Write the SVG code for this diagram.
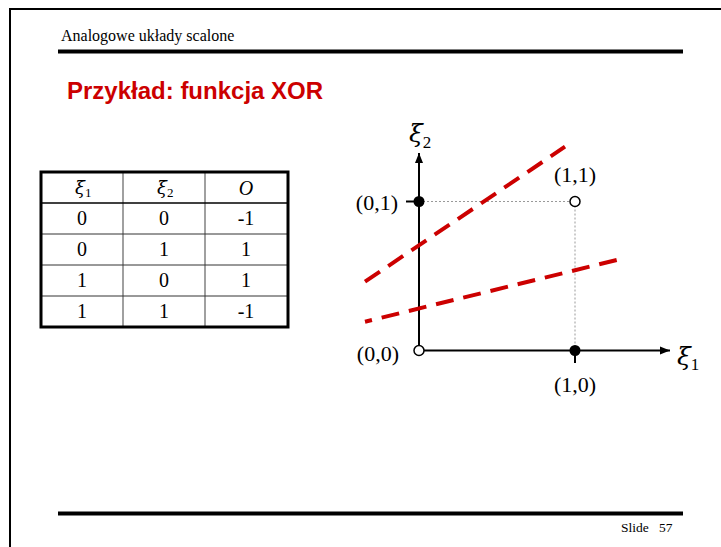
<svg xmlns="http://www.w3.org/2000/svg" width="721" height="547" viewBox="0 0 721 547">
<style>
.serif{font-family:"Liberation Serif","Times New Roman",serif;fill:#000}
.cell{font-size:20px;text-anchor:middle}
.lbl{font-size:22px}
.xi{font-family:"DejaVu Serif","Liberation Serif",serif;font-style:italic}
.red{stroke:#CC0000;stroke-width:4;fill:none;stroke-dasharray:18 10}
.dot{stroke:#999;stroke-width:1;stroke-dasharray:2 2;fill:none}
.axis{stroke:#000;stroke-width:2;fill:none}
</style>
<defs>
<marker id="arr" viewBox="0 0 10 10" refX="10" refY="5" markerWidth="10" markerHeight="10" markerUnits="userSpaceOnUse" orient="auto">
<path d="M0,1 L10,5 L0,9 z" fill="#000"/>
</marker>
</defs>
<rect width="721" height="547" fill="#fff"/>
<g id="frame">
<path d="M10,547 V9 H721" stroke="#000" stroke-width="2" fill="none"/>
<line x1="58" y1="51.5" x2="683" y2="51.5" stroke="#000" stroke-width="4"/>
<line x1="58" y1="513.5" x2="683" y2="513.5" stroke="#000" stroke-width="4"/>
<text class="serif" x="61" y="41" font-size="16">Analogowe układy scalone</text>
<text class="serif" x="621" y="532" font-size="13.5" xml:space="preserve">Slide   57</text>
<text x="67" y="99" font-family="Liberation Sans, Arial, sans-serif" font-weight="bold" font-size="24" fill="#CC0000">Przykład: funkcja XOR</text>
</g>
<g id="table">
<line x1="123" y1="172" x2="123" y2="327" stroke="#808080" stroke-width="1.5"/>
<line x1="205" y1="172" x2="205" y2="327" stroke="#808080" stroke-width="1.5"/>
<line x1="41" y1="203" x2="288" y2="203" stroke="#000" stroke-width="1.5"/>
<line x1="41" y1="234" x2="288" y2="234" stroke="#333" stroke-width="1"/>
<line x1="41" y1="265" x2="288" y2="265" stroke="#333" stroke-width="1"/>
<line x1="41" y1="296" x2="288" y2="296" stroke="#333" stroke-width="1"/>
<rect x="41" y="172" width="247" height="155" fill="none" stroke="#000" stroke-width="3"/>
<text class="serif" x="75" y="194" font-size="18"><tspan class="xi">ξ</tspan><tspan font-size="13" dy="3">1</tspan></text>
<text class="serif" x="157" y="194" font-size="18"><tspan class="xi">ξ</tspan><tspan font-size="13" dy="3">2</tspan></text>
<text class="serif cell" x="246" y="195" font-style="italic">O</text>
<text class="serif cell" x="82" y="225">0</text><text class="serif cell" x="164" y="225">0</text><text class="serif cell" x="246" y="225">-1</text>
<text class="serif cell" x="82" y="256">0</text><text class="serif cell" x="164" y="256">1</text><text class="serif cell" x="246" y="256">1</text>
<text class="serif cell" x="82" y="287">1</text><text class="serif cell" x="164" y="287">0</text><text class="serif cell" x="246" y="287">1</text>
<text class="serif cell" x="82" y="318">1</text><text class="serif cell" x="164" y="318">1</text><text class="serif cell" x="246" y="318">-1</text>
</g>
<g id="connectors">
<line class="dot" x1="419" y1="201.5" x2="575" y2="201.5"/>
<line class="dot" x1="575" y1="201.5" x2="575" y2="350.5"/>
<line class="axis" x1="419" y1="350.5" x2="419" y2="153" marker-end="url(#arr)"/>
<line class="axis" x1="419" y1="350.5" x2="670" y2="350.5" marker-end="url(#arr)"/>
<line class="axis" x1="406" y1="201.5" x2="419" y2="201.5"/>
<line class="axis" x1="575" y1="350.5" x2="575" y2="363"/>
<line class="red" x1="365" y1="281.7" x2="565" y2="146.7"/>
<line class="red" x1="616.7" y1="260" x2="365" y2="321.7"/>
</g>
<g id="p01"><circle cx="419" cy="201.5" r="5.5" fill="#000"/><text class="serif lbl" x="398" y="210" text-anchor="end">(0,1)</text></g>
<g id="p11"><circle cx="575" cy="201.5" r="5" fill="#fff" stroke="#000" stroke-width="1.5"/><text class="serif lbl" x="575" y="182" text-anchor="middle">(1,1)</text></g>
<g id="p00"><circle cx="419" cy="350.5" r="5" fill="#fff" stroke="#000" stroke-width="1.5"/><text class="serif lbl" x="399" y="361" text-anchor="end">(0,0)</text></g>
<g id="p10"><circle cx="575" cy="350.5" r="5.5" fill="#000"/><text class="serif lbl" x="575" y="392" text-anchor="middle">(1,0)</text></g>
<g id="xi2"><text class="serif" x="409" y="142" font-size="25"><tspan class="xi">ξ</tspan><tspan font-size="17" dy="6">2</tspan></text></g>
<g id="xi1"><text class="serif" x="677" y="365" font-size="25"><tspan class="xi">ξ</tspan><tspan font-size="17" dy="5">1</tspan></text></g>
</svg>
